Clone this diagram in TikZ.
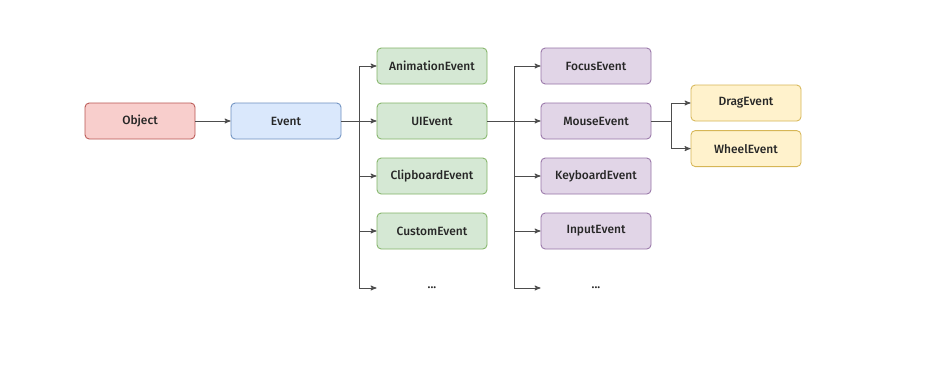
\documentclass[tikz,border=0pt]{standalone}
\usepackage{fontspec}
\setmainfont{Fira Sans}[UprightFont=* Medium]
\usetikzlibrary{arrows}

\definecolor{objfill}{HTML}{F8CECC}
\definecolor{objline}{HTML}{B85450}
\definecolor{evfill}{HTML}{DAE8FC}
\definecolor{evline}{HTML}{6C8EBF}
\definecolor{uifill}{HTML}{D5E8D4}
\definecolor{uiline}{HTML}{82B366}
\definecolor{msfill}{HTML}{E1D5E7}
\definecolor{msline}{HTML}{9673A6}
\definecolor{dgfill}{HTML}{FFF2CC}
\definecolor{dgline}{HTML}{D6B656}
\definecolor{linegray}{HTML}{4D4D4D}
\definecolor{textgray}{HTML}{262626}

\begin{document}
\begin{tikzpicture}[->,>=stealth',node distance=1.375cm,
  line width=0.6pt,draw=linegray,
  box/.style={rectangle,rounded corners=3pt,minimum width=2.75cm,minimum height=0.9cm,
    font=\fontsize{8.5}{10}\selectfont,text=textgray},
  objbox/.style={box,fill=objfill,draw=objline},
  eventbox/.style={box,fill=evfill,draw=evline},
  uibox/.style={box,fill=uifill,draw=uiline},
  mousebox/.style={box,fill=msfill,draw=msline},
  dragbox/.style={box,fill=dgfill,draw=dgline},
  more/.style={box,draw=none,yshift=-0.05cm}]

 \useasboundingbox (0,0) rectangle (23.8,-9.2);

 \node[objbox] (object) at (3.5,-3.025) {Object};
 \node[eventbox] (event) [right of=object, node distance=3.65cm] {Event};

 % second level
 \node[uibox] (ui) [right of=event, node distance=3.65cm] {UIEvent};
 \node[uibox] (animation) [above of=ui] {AnimationEvent};
 \node[uibox] (clipboard) [below of=ui] {ClipboardEvent};
 \node[uibox] (custom) [below of=clipboard] {CustomEvent};
 \node[more] (uimore) [below of=custom] {...};

 % third level
 \node[mousebox] (mouse) [right of=ui, node distance=4.1cm] {MouseEvent};
 \node[mousebox] (focus) [above of=mouse] {FocusEvent};
 \node[mousebox] (keyboard) [below of=mouse] {KeyboardEvent};
 \node[mousebox] (input) [below of=keyboard] {InputEvent};
 \node[more] (mousemore) [below of=input] {...};

 % fourth level
 \node[dragbox] (drag) [right of=mouse, node distance=3.75cm, yshift=0.45cm] {DragEvent};
 \node[dragbox] (wheel) [right of=mouse, node distance=3.75cm, yshift=-0.69cm] {WheelEvent};

 \draw (object) -- (event);

 \draw[-] (event.east) -- ++(0.45,0) coordinate (evsplit);
 \foreach \n in {animation,ui,clipboard,custom,uimore}
   \draw (evsplit) |- (\n.west);

 \draw[-] (ui.east) -- ++(0.675,0) coordinate (uisplit);
 \foreach \n in {focus,mouse,keyboard,input,mousemore}
   \draw (uisplit) |- (\n.west);

 \draw[-] (mouse.east) -- ++(0.5,0) coordinate (mousesplit);
 \foreach \n in {drag,wheel}
   \draw (mousesplit) |- (\n.west);

\end{tikzpicture}
\end{document}
